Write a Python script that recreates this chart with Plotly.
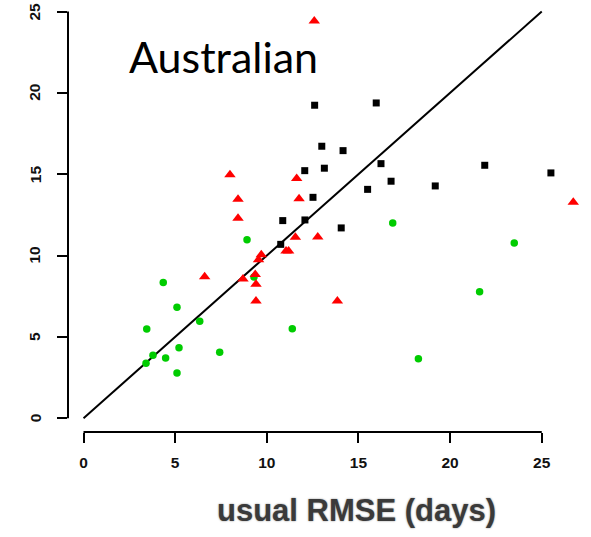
import plotly.graph_objects as go

# ---- data ----
black_x = [10.87, 10.76, 12.61, 15.97, 13.00, 14.16, 12.07, 13.14, 16.23, 21.89, 25.50, 16.78, 12.52, 15.50, 19.19, 12.08, 14.06]
black_y = [12.15, 10.69, 19.24, 19.38, 16.72, 16.45, 15.22, 15.37, 15.65, 15.55, 15.08, 14.57, 13.58, 14.07, 14.28, 12.19, 11.70]

red_x = [7.99, 8.43, 8.43, 11.63, 11.76, 11.56, 11.05, 11.19, 9.55, 9.70, 6.61, 8.70, 9.37, 9.41, 9.41, 13.85, 12.59, 12.78, 26.72]
red_y = [14.97, 13.46, 12.29, 14.73, 13.50, 11.12, 10.28, 10.28, 9.75, 10.05, 8.70, 8.56, 8.83, 8.24, 7.21, 7.21, 24.42, 11.14, 13.28]

green_x = [3.45, 4.35, 5.10, 6.34, 3.79, 3.41, 4.48, 5.21, 5.10, 7.43, 9.30, 11.39, 8.92, 18.27, 21.61, 16.87, 23.50]
green_y = [5.49, 8.34, 6.82, 5.96, 3.87, 3.38, 3.71, 4.34, 2.78, 4.06, 8.68, 5.51, 10.98, 3.66, 7.78, 12.00, 10.77]

line_x = [0, 25]
line_y = [0, 25]

x_ticks = [0, 5, 10, 15, 20, 25]
y_ticks = [0, 5, 10, 15, 20, 25]

title_text = "Australian"
x_title = "usual RMSE (days)"

fig = go.Figure()

fig.add_trace(go.Scatter(x=line_x, y=line_y, mode="lines",
                         line=dict(color="black", width=2), hoverinfo="skip"))
fig.add_trace(go.Scatter(x=green_x, y=green_y, mode="markers",
                         marker=dict(symbol="circle", size=7.5, color="#00cc00", line=dict(width=0))))
fig.add_trace(go.Scatter(x=red_x, y=red_y, mode="markers",
                         marker=dict(symbol="triangle-up", size=10, color="#ff0000", line=dict(width=0))))
fig.add_trace(go.Scatter(x=black_x, y=black_y, mode="markers",
                         marker=dict(symbol="square", size=7, color="black", line=dict(width=0))))

tickfont = dict(family="Liberation Sans", size=15.5, color="#111111", weight="bold")

# rotated y tick labels (R style, reading bottom-to-top)
y_label_annots = [
    dict(text=str(v), xref="paper", yref="y", x=0, y=v, xanchor="center", yanchor="middle",
         xshift=-33, textangle=-90, showarrow=False, font=tickfont)
    for v in y_ticks
]

fig.update_layout(
    width=591, height=537,
    margin=dict(l=68, r=6, t=5, b=105),
    paper_bgcolor="white", plot_bgcolor="white",
    showlegend=False,
    xaxis=dict(range=[-0.846, 27.36], showgrid=False, zeroline=False, showline=False,
               tickmode="array", tickvals=x_ticks, ticktext=[str(v) for v in x_ticks],
               ticks="outside", ticklen=10, tickwidth=2, tickcolor="black",
               tickfont=tickfont, ticklabelstandoff=6),
    yaxis=dict(range=[-0.842, 25.40], showgrid=False, zeroline=False, showline=False,
               tickmode="array", tickvals=y_ticks, showticklabels=False,
               ticks="outside", ticklen=10, tickwidth=2, tickcolor="black"),
    shapes=[
        dict(type="line", xref="x", yref="paper", x0=x_ticks[0], x1=x_ticks[-1], y0=0, y1=0,
             line=dict(color="black", width=2)),
        dict(type="line", xref="paper", yref="y", x0=0, x1=0, y0=y_ticks[0], y1=y_ticks[-1],
             line=dict(color="black", width=2)),
    ],
    annotations=[
        dict(text=title_text, xref="x", yref="y", x=2.38, y=22.25, xanchor="left", yanchor="middle",
             showarrow=False, font=dict(family="Lato", size=43, color="black")),
        dict(text=x_title, xref="x", yref="paper", x=14.87, y=-0.183, xanchor="center", yanchor="middle",
             showarrow=False,
             font=dict(family="Liberation Sans", size=31, color="#3a3a3a", weight="bold",
                       shadow="0px 0px 2px #888888")),
    ] + y_label_annots,
)

fig.write_html("out.html", config={"displayModeBar": False},
               post_script="document.body.style.margin='0';")
